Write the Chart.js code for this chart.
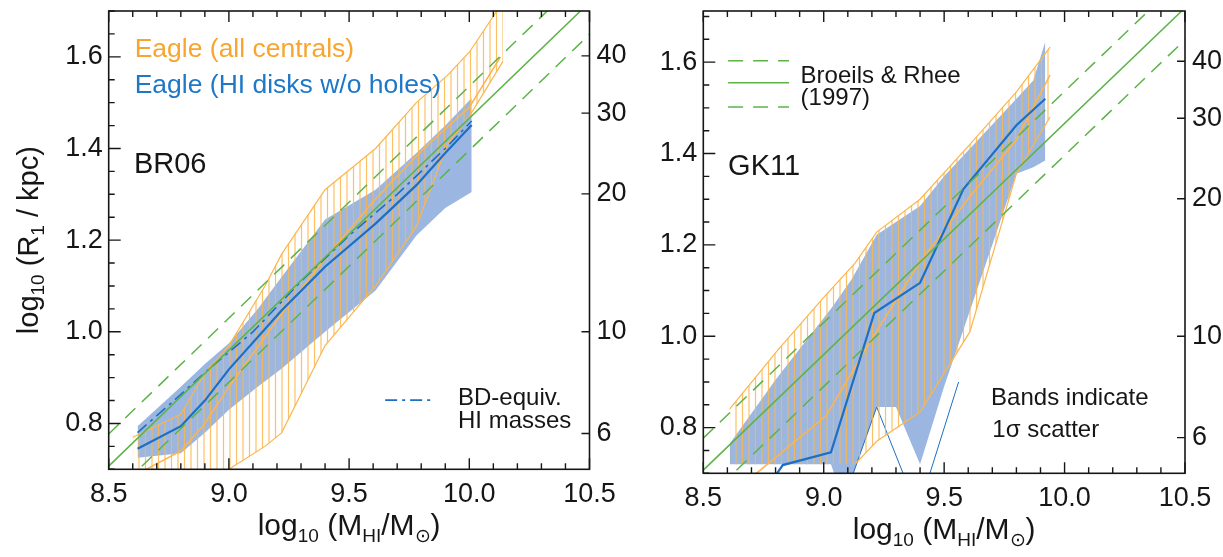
<!DOCTYPE html>
<html>
<head>
<meta charset="utf-8">
<script src="https://cdn.jsdelivr.net/npm/chart.js@4.4.0/dist/chart.umd.min.js"></script>
<style>
  html, body { margin: 0; padding: 0; background: #fff; }
  #wrap { position: relative; width: 1223px; height: 557px; overflow: hidden; }
  #wrap canvas { position: absolute; top: 0; }
  #left { left: 0; width: 650px; height: 557px; }
  #right { left: 610px; width: 613px; height: 557px; }
</style>
</head>
<body>
<div id="wrap">
  <canvas id="left" width="650" height="557"></canvas>
  <canvas id="right" width="613" height="557"></canvas>
</div>
<script>
// ---- axis ticks ----
const xTickValues = [8.5, 9.0, 9.5, 10.0, 10.5];
const yTickValues = [0.8, 1.0, 1.2, 1.4, 1.6];
const radiusTickLabels = [6, 10, 20, 30, 40];   // right axis, R1 in kpc

// ---- Broeils & Rhee (1997) relation, read at the panel edges ----
const brX    = [8.5, 10.5];
const brMid  = [0.707, 1.719];
const brHigh = [0.777, 1.789];
const brLow  = [0.637, 1.649];

// ---- BR06 panel ----
const br06OrangeX     = [8.60, 8.80, 8.90, 9.00, 9.15, 9.22, 9.40, 9.61, 9.78, 9.91, 10.00, 10.14];
const br06OrangeUpper = [0.77, 0.82, 0.91, 0.97, 1.10, 1.17, 1.31, 1.40, 1.50, 1.56, 1.61, 1.72];
const br06OrangeLower = [0.60, 0.63, 0.66, 0.70, 0.75, 0.78, 0.97, 1.10, 1.23, 1.41, 1.47, 1.59];
const br06OrangeMedX  = [8.62, 8.80, 8.90, 9.00, 9.22, 9.40, 9.61, 9.81, 10.00, 10.13];
const br06OrangeMed   = [0.69, 0.74, 0.80, 0.88, 1.04, 1.16, 1.29, 1.40, 1.49, 1.60];
const br06BlueX       = [8.62, 8.80, 8.90, 9.00, 9.12, 9.22, 9.40, 9.61, 9.78, 9.90, 10.01];
const br06BlueUpper   = [0.794, 0.88, 0.93, 0.975, 1.05, 1.12, 1.245, 1.31, 1.39, 1.45, 1.51];
const br06BlueLower   = [0.725, 0.735, 0.78, 0.83, 0.88, 0.92, 1.00, 1.09, 1.21, 1.27, 1.305];
const br06BlueMedX    = [8.62, 8.80, 8.90, 9.00, 9.22, 9.40, 9.61, 9.78, 9.90, 10.01];
const br06BlueMed     = [0.745, 0.794, 0.85, 0.918, 1.047, 1.142, 1.236, 1.32, 1.39, 1.451];
const br06BdX         = [8.62, 8.75, 8.92, 9.10, 9.30, 9.50, 9.70, 9.90, 10.01];
const br06Bd          = [0.78, 0.84, 0.92, 1.00, 1.11, 1.21, 1.30, 1.40, 1.46];

// ---- GK11 panel ----
const gk11OrangeX     = [8.61, 8.81, 9.00, 9.13, 9.22, 9.40, 9.607, 9.80, 9.94];
const gk11OrangeUpper = [0.841, 0.97, 1.085, 1.16, 1.228, 1.30, 1.42, 1.535, 1.633];
const gk11OrangeLower = [0.72, 0.72, 0.72, 0.72, 0.77, 0.834, 1.01, 1.356, 1.48];
const gk11OrangeMedX  = [8.65, 8.72, 9.01, 9.22, 9.40, 9.607, 9.80, 9.94];
const gk11OrangeMed   = [0.66, 0.70, 0.826, 1.012, 1.163, 1.306, 1.43, 1.572];
const gk11BlueX       = [8.61, 8.80, 9.03, 9.05, 9.116, 9.22, 9.30, 9.40, 9.50, 9.80, 9.87, 9.92];
const gk11BlueUpper   = [0.765, 0.905, 1.06, 1.075, 1.125, 1.222, 1.25, 1.285, 1.35, 1.52, 1.56, 1.645];
const gk11BlueLower   = [0.72, 0.72, 0.72, 0.69, 0.69, 0.845, 0.845, 0.72, 0.89, 1.356, 1.37, 1.385];
const gk11BlueMedX    = [8.78, 8.83, 9.03, 9.21, 9.40, 9.58, 9.80, 9.92];
const gk11BlueMed     = [0.68, 0.718, 0.746, 1.051, 1.117, 1.322, 1.462, 1.52];
const gk11EdgeAX      = [9.116, 9.22, 9.337];
const gk11EdgeA       = [0.69, 0.845, 0.69];
const gk11EdgeBX      = [9.435, 9.56];
const gk11EdgeB       = [0.69, 0.90];

// colours
const green = '#5db348';
const orangeLine = '#fdb44c';
const orangeText = '#f7a52e';
const blueLine = '#1c6fc2';
const blueText = '#1f77c8';
const blueFill = '#9bb7e1';
const ink = '#161616';
const fontFamily = '"Liberation Sans", Arial, Helvetica, sans-serif';

const pts = (xs, ys) => xs.map((x, i) => ({x: x, y: ys[i]}));

function hatchPattern() {
    const c = document.createElement('canvas');
    c.width = 13; c.height = 10;
    const g = c.getContext('2d');
    g.strokeStyle = 'rgba(252,182,76,0.85)';
    g.lineWidth = 1.2;
    g.beginPath();
    g.moveTo(2.5, 0); g.lineTo(2.5, 10);
    g.moveTo(9, 0); g.lineTo(9, 10);
    g.stroke();
    return g.createPattern(c, 'repeat');
}
const hatch = hatchPattern();

function lineSet(data, color, width, dash) {
    return {
        data: data, borderColor: color, borderWidth: width, borderDash: dash || [],
        pointRadius: 0, fill: false, tension: 0
    };
}

function brSets() {
    return [
        lineSet(pts(brX, brMid), green, 1.5),
        lineSet(pts(brX, brHigh), green, 1.5, [14, 9]),
        lineSet(pts(brX, brLow), green, 1.5, [14, 9])
    ];
}

// hide the flat floor of the hatched band outline
const floorSeg = {
    borderColor: c => (c.p0.parsed.y <= 0.72 && c.p1.parsed.y <= 0.72) ? 'rgba(0,0,0,0)' : undefined
};

function bandSets(x, upper, lower, lineColor, fillStyle, outline) {
    const edge = outline ? lineColor : 'rgba(0,0,0,0)';
    const up = lineSet(pts(x, upper), edge, 1.2);
    const low = lineSet(pts(x, lower), edge, 1.2);
    low.fill = '-1';
    low.backgroundColor = fillStyle;
    if (outline) low.segment = floorSeg;
    return [up, low];
}

function drawRich(ctx, parts, x, y, size, align) {
    const subSize = Math.round(size * 0.64);
    const widths = parts.map(p => {
        ctx.font = (p[1] ? subSize : size) + 'px ' + fontFamily;
        return ctx.measureText(p[0]).width;
    });
    const total = widths.reduce((a, b) => a + b, 0);
    let cx = align === 'center' ? x - total / 2 : x;
    ctx.textAlign = 'left';
    ctx.textBaseline = 'alphabetic';
    parts.forEach((p, i) => {
        ctx.font = (p[1] ? subSize : size) + 'px ' + fontFamily;
        ctx.fillText(p[0], cx, y + (p[1] ? size * 0.22 : 0));
        cx += widths[i];
    });
}

const panelDeco = {
    id: 'panelDeco',
    afterDatasetsDraw(chart, args, opts) {
        const {ctx, chartArea: a, scales} = chart;
        const sx = scales.x, sy = scales.y;
        ctx.save();
        ctx.strokeStyle = ink;
        ctx.fillStyle = ink;

        // ticks on all sides
        ctx.lineWidth = 1.4;
        ctx.setLineDash([]);
        ctx.beginPath();
        for (let i = 0; i <= 20; i++) {
            const px = sx.getPixelForValue(8.5 + i * 0.1);
            const len = i % 5 === 0 ? 11 : 6;
            ctx.moveTo(px, a.bottom); ctx.lineTo(px, a.bottom - len);
            ctx.moveTo(px, a.top); ctx.lineTo(px, a.top + len);
        }
        for (let i = 0; 0.7 + i * 0.05 <= sy.max + 1e-6; i++) {
            const v = 0.7 + i * 0.05;
            const py = sy.getPixelForValue(v);
            const major = Math.abs(v * 5 - Math.round(v * 5)) < 1e-6;
            ctx.moveTo(a.left, py); ctx.lineTo(a.left + (major ? 12 : 6), py);
        }
        radiusTickLabels.forEach(r => {
            const py = sy.getPixelForValue(Math.log10(r));
            ctx.moveTo(a.right, py); ctx.lineTo(a.right - 8, py);
        });
        ctx.stroke();

        // frame
        ctx.lineWidth = 1.6;
        ctx.strokeRect(a.left, a.top, a.width, a.height);

        // legend sample lines
        opts.samples.forEach(s => {
            ctx.save();
            ctx.strokeStyle = s.color;
            ctx.lineWidth = s.width;
            ctx.setLineDash(s.dash);
            ctx.beginPath();
            const yy = sy.getPixelForValue(s.y);
            ctx.moveTo(sx.getPixelForValue(s.x0), yy);
            ctx.lineTo(sx.getPixelForValue(s.x1), yy);
            ctx.stroke();
            ctx.restore();
        });

        // annotations
        opts.texts.forEach(t => {
            ctx.fillStyle = t.color || ink;
            ctx.font = t.size + 'px ' + fontFamily;
            ctx.textAlign = 'left';
            ctx.textBaseline = 'alphabetic';
            ctx.fillText(t.text, sx.getPixelForValue(t.x), sy.getPixelForValue(t.y));
        });

        // axis titles
        ctx.fillStyle = ink;
        drawRich(ctx, [['log', 0], ['10', 1], [' (M', 0], ['HI', 1], ['/M', 0], ['\u2299', 1], [')', 0]],
            (a.left + a.right) / 2, opts.xTitleY, 30, 'center');
        if (opts.yTitleX) {
            ctx.save();
            ctx.translate(opts.yTitleX, (a.top + a.bottom) / 2);
            ctx.rotate(-Math.PI / 2);
            drawRich(ctx, [['log', 0], ['10', 1], [' (R', 0], ['1', 1], [' / kpc)', 0]], 0, 0, 29, 'center');
            ctx.restore();
        }
        ctx.restore();
    }
};

const tickFont = {family: fontFamily, size: 27};

function zeroPad(s) {
    s.paddingTop = 0; s.paddingBottom = 0; s.paddingLeft = 0; s.paddingRight = 0;
}

function makePanel(id, datasets, box, deco) {
    return new Chart(document.getElementById(id), {
        type: 'line',
        data: {datasets: datasets},
        plugins: [panelDeco],
        options: {
            responsive: false,
            animation: false,
            events: [],
            layout: {padding: {left: 0, right: 0, top: box.top, bottom: 0}},
            plugins: {legend: {display: false}, tooltip: {enabled: false}, panelDeco: deco},
            scales: {
                x: {
                    type: 'linear', min: 8.5, max: 10.5,
                    grid: {display: false, drawTicks: false}, border: {display: false},
                    ticks: {font: tickFont, color: ink, padding: 9, maxRotation: 0, autoSkip: false,
                            callback: v => v.toFixed(1)},
                    afterBuildTicks: s => { s.ticks = xTickValues.map(v => ({value: v})); },
                    afterFit: s => { s.height = box.xHeight; zeroPad(s); }
                },
                y: {
                    type: 'linear', position: 'left', min: 0.7, max: box.yMax,
                    grid: {display: false, drawTicks: false}, border: {display: false},
                    ticks: {font: tickFont, color: ink, padding: 6, autoSkip: false,
                            callback: v => v.toFixed(1)},
                    afterBuildTicks: s => { s.ticks = yTickValues.map(v => ({value: v})); },
                    afterFit: s => { s.width = box.yWidth; zeroPad(s); }
                },
                y2: {
                    type: 'linear', position: 'right', min: 0.7, max: box.yMax,
                    grid: {display: false, drawTicks: false}, border: {display: false},
                    ticks: {font: tickFont, color: ink, padding: 7, autoSkip: false,
                            callback: v => String(Math.round(Math.pow(10, v)))},
                    afterBuildTicks: s => { s.ticks = radiusTickLabels.map(r => ({value: Math.log10(r)})); },
                    afterFit: s => { s.width = box.y2Width; zeroPad(s); }
                }
            }
        }
    });
}

// Left panel: BR06
const leftSets = [].concat(
    brSets(),
    [lineSet(pts(br06BlueMedX, br06BlueMed), blueLine, 2.2)],
    [lineSet(pts(br06BdX, br06Bd), blueLine, 1.6, [12, 5, 3, 5])],
    [lineSet(pts(br06OrangeMedX, br06OrangeMed), orangeLine, 1.5)],
    bandSets(br06OrangeX, br06OrangeUpper, br06OrangeLower, orangeLine, hatch, true),
    bandSets(br06BlueX, br06BlueUpper, br06BlueLower, blueLine, blueFill, false)
);

makePanel('left', leftSets,
    {top: 11, xHeight: 87.7, yWidth: 108.7, y2Width: 60.5, yMax: 1.70},
    {
        xTitleY: 535, yTitleX: 38,
        texts: [
            {text: 'Eagle (all centrals)', x: 8.608, y: 1.600, color: orangeText, size: 26.5},
            {text: 'Eagle (HI disks w/o holes)', x: 8.608, y: 1.522, color: blueText, size: 26.5},
            {text: 'BR06', x: 8.605, y: 1.347, size: 29},
            {text: 'BD-equiv.', x: 9.953, y: 0.840, size: 24},
            {text: 'HI masses', x: 9.953, y: 0.790, size: 24}
        ],
        samples: [
            {x0: 9.65, x1: 9.842, y: 0.851, color: blueLine, width: 1.8, dash: [12, 5, 3, 5]}
        ]
    });

// Right panel: GK11
const rightSets = [].concat(
    brSets(),
    [lineSet(pts(gk11BlueMedX, gk11BlueMed), blueLine, 2.2)],
    [lineSet(pts(gk11OrangeMedX, gk11OrangeMed), orangeLine, 1.5)],
    bandSets(gk11OrangeX, gk11OrangeUpper, gk11OrangeLower, orangeLine, hatch, true),
    [lineSet(pts(gk11EdgeAX, gk11EdgeA), blueLine, 1)],
    [lineSet(pts(gk11EdgeBX, gk11EdgeB), blueLine, 1)],
    bandSets(gk11BlueX, gk11BlueUpper, gk11BlueLower, blueLine, blueFill, false)
);

makePanel('right', rightSets,
    {top: 11, xHeight: 83.7, yWidth: 93.3, y2Width: 38, yMax: 1.712},
    {
        xTitleY: 539, yTitleX: null,
        texts: [
            {text: 'GK11', x: 8.603, y: 1.352, size: 29},
            {text: 'Broeils & Rhee', x: 8.904, y: 1.555, size: 24},
            {text: '(1997)', x: 8.904, y: 1.506, size: 24},
            {text: 'Bands indicate', x: 9.695, y: 0.850, size: 24},
            {text: '1\u03c3 scatter', x: 9.70, y: 0.780, size: 24}
        ],
        samples: [
            {x0: 8.603, x1: 8.856, y: 1.603, color: green, width: 1.5, dash: [15, 10]},
            {x0: 8.603, x1: 8.856, y: 1.555, color: green, width: 1.5, dash: []},
            {x0: 8.603, x1: 8.856, y: 1.502, color: green, width: 1.5, dash: [15, 10]}
        ]
    });
</script>
</body>
</html>
